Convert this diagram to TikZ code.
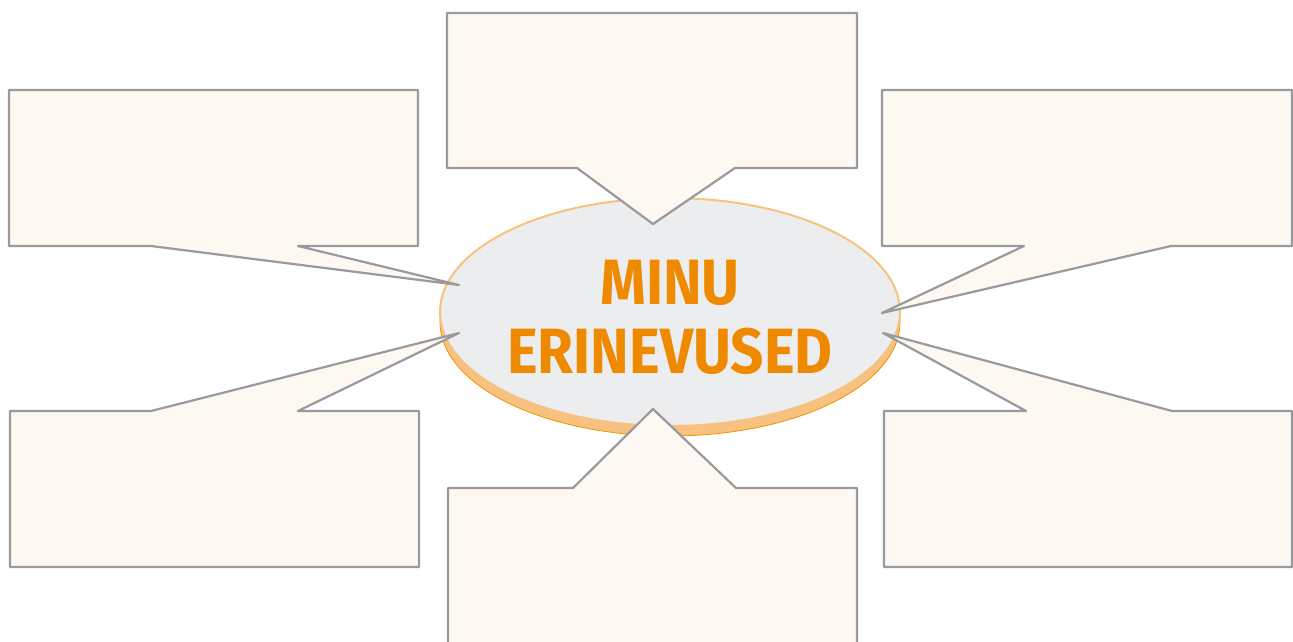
\documentclass[tikz,border=0pt]{standalone}
\usepackage{fontspec}
\newfontfamily\titlefont{Fira Sans}[FakeStretch=0.91]
\usetikzlibrary{shapes.geometric}

\definecolor{boxfill}{HTML}{FDF8F2}
\definecolor{boxline}{HTML}{9A999B}
\definecolor{discfill}{HTML}{ECEDEE}
\definecolor{discrim}{HTML}{F7C27F}
\definecolor{discedge}{HTML}{F39200}
\definecolor{titleorange}{HTML}{EF8A00}

\begin{document}
\begin{tikzpicture}[
    x=1pt, y=-1pt,
    callout/.style={draw=boxline, fill=boxfill, line width=2.2pt, line join=round},
    disc/.style={ellipse, minimum width=460pt, minimum height=228pt, inner sep=0pt},
    title/.style={font=\titlefont\bfseries\fontsize{64}{69}\selectfont, text=titleorange, align=center, inner sep=0pt}
]
\useasboundingbox (0,0) rectangle (1293,641);

% centre disc with its rim
\node[disc, fill=discrim, draw=discedge, line width=0.8pt] (rim) at (670,322) {};
\node[disc, fill=discfill, draw=discrim, line width=2pt] (disc) at (670,312) {};
\node[title] (name) at (670,317) {MINU\\ERINEVUSED};

% pointer tips
\coordinate (tipT) at (653,224);
\coordinate (tipTL) at (459,285);
\coordinate (tipTR) at (882,313);
\coordinate (tipBL) at (459,333);
\coordinate (tipBR) at (883,333);
\coordinate (tipB) at (653,409);

% callouts
\draw[callout] (447,13) -- (857,13) -- (857,168) -- (735,168) -- (tipT) -- (577,168) -- (447,168) -- cycle;
\draw[callout] (9,90) -- (418,90) -- (418,246) -- (298,246) -- (tipTL) -- (151,246) -- (9,246) -- cycle;
\draw[callout] (882,90) -- (1292,90) -- (1292,246) -- (1171,246) -- (tipTR) -- (1024,246) -- (882,246) -- cycle;
\draw[callout] (10,411) -- (151,411) -- (tipBL) -- (298,411) -- (419,411) -- (419,567) -- (10,567) -- cycle;
\draw[callout] (884,411) -- (1026,411) -- (tipBR) -- (1172,411) -- (1292,411) -- (1292,567) -- (884,567) -- cycle;
\draw[callout] (448,488) -- (573,488) -- (tipB) -- (736,488) -- (857,488) -- (857,650) -- (448,650) -- cycle;

\end{tikzpicture}
\end{document}
